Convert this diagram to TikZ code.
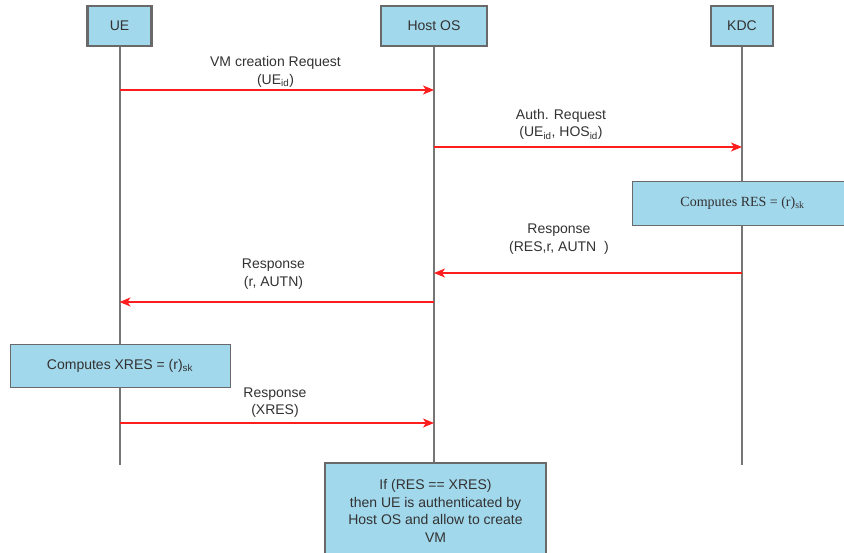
\documentclass[tikz,border=0pt]{standalone}
\usepackage{fontspec}
\setmainfont{Liberation Sans}
\newfontfamily\serifrm{Liberation Serif}
\usetikzlibrary{arrows.meta}
\definecolor{boxfill}{RGB}{162,216,236}
\definecolor{boxline}{RGB}{105,105,105}
\definecolor{lifeln}{RGB}{118,118,118}
\definecolor{msgred}{RGB}{255,30,30}
\definecolor{txt}{RGB}{50,50,50}
\begin{document}
\begin{tikzpicture}[x=1pt,y=-1pt,
  actor/.style={draw=boxline,line width=2.2pt,fill=boxfill,minimum height=40pt,inner sep=0pt,
    font=\fontsize{14}{16}\selectfont,text=txt},
  notebox/.style={draw=boxline,line width=1pt,fill=boxfill,inner sep=0pt,align=center,
    font=\fontsize{14}{17.7}\selectfont,text=txt},
  lifeline/.style={draw=lifeln,line width=2pt},
  msg/.style={draw=msgred,line width=1.5pt,-{Stealth[length=11pt,width=9pt,inset=3pt]}},
  msglabel/.style={align=center,inner sep=0pt,font=\fontsize{14}{17.5}\selectfont,text=txt}]
\useasboundingbox (0,0) rectangle (844,552);
\clip (0,0) rectangle (844,552);
\fill[white] (0,0) rectangle (844,552);

% lifelines' ends
\coordinate (ueEnd) at (119.5,465);
\coordinate (hostEnd) at (434,463);
\coordinate (kdcEnd) at (742,465);

% actors
\node[actor,minimum width=64pt] (ue) at (119.5,26) {UE};
\node[actor,minimum width=106pt] (host) at (434,26) {Host OS};
\node[actor,minimum width=62pt] (kdc) at (742,26) {KDC};

\draw[lifeline] (ue.south) -- (ueEnd);
\draw[lifeline] (host.south) -- (hostEnd);
\draw[lifeline] (kdc.south) -- (kdcEnd);

% message anchor points
\coordinate (ue1) at (119.5,90);   \coordinate (host1) at (434,90);
\coordinate (host2) at (434,147);  \coordinate (kdc2) at (742,147);
\coordinate (kdc4) at (742,273);   \coordinate (host4) at (434,273);
\coordinate (host5) at (434,302);  \coordinate (ue5) at (119.5,302);
\coordinate (ue7) at (119.5,423);  \coordinate (host7) at (434,423);

% messages
\draw[msg] (ue1) -- (host1);
\node[msglabel] (l1) at (275.5,72) {VM creation Request\\(UE\textsubscript{id})};

\draw[msg] (host2) -- (kdc2);
\node[msglabel] (l2) at (561,124.5) {Auth. Request\\(UE\textsubscript{id}, HOS\textsubscript{id})};

\node[notebox,minimum width=221pt,minimum height=44pt] (res) at (742.5,203)
  {\serifrm Computes RES = (r)\textsubscript{sk}};

\draw[msg] (kdc4) -- (host4);
\node[msglabel] (l4) at (559,239) {Response\\(RES,r, AUTN\ \ )};

\draw[msg] (host5) -- (ue5);
\node[msglabel] (l5) at (273.5,274) {Response\\(r, AUTN)};

\node[notebox,minimum width=220pt,minimum height=43pt] (xres) at (120,365.5)
  {Computes XRES = (r)\textsubscript{sk}};

\draw[msg] (ue7) -- (host7);
\node[msglabel] (l7) at (275,402.5) {Response\\(XRES)};

\node[notebox,line width=1.3pt,minimum width=221pt,minimum height=96pt] (final) at (435.5,511)
  {If (RES == XRES)\\then UE is authenticated by\\Host OS and allow to create\\VM};
\end{tikzpicture}
\end{document}
